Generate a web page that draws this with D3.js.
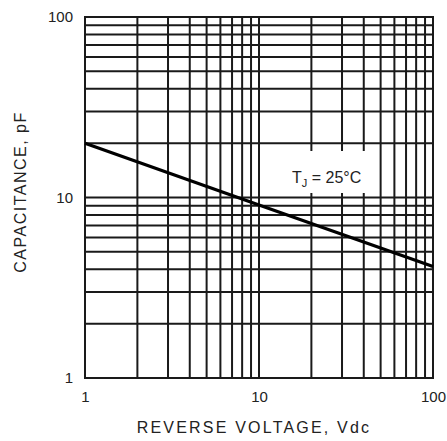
<!DOCTYPE html>
<html><head><meta charset="utf-8">
<script src="https://cdn.jsdelivr.net/npm/d3@7"></script>
<style>body{margin:0;background:#fff}svg{display:block}</style>
</head><body><svg id="c" width="447" height="441"></svg>
<script>
// Data
const voltage = [1, 10, 100];
const capacitance = [20, 9.1, 4.15];
const xTickLabels = [1, 10, 100];
const yTickLabels = [1, 10, 100];
const gridValues = [1,2,3,4,5,6,7,8,9,10,20,30,40,50,60,70,80,90,100];
const xTitle = "REVERSE VOLTAGE, Vdc";
const yTitle = "CAPACITANCE, pF";
const noteValue = { v: 22, c: 12.5 };

const svg = d3.select("#c");
const L = 85, R = 433, T = 17, B = 378;
const font = "'Liberation Sans', Arial, Helvetica, sans-serif";

const x = d3.scaleLog().domain([1, 100]).range([L, R]);
const y = d3.scaleLog().domain([1, 100]).range([B, T]);

const g = svg.append("g");

// grid
g.selectAll("line.v").data(gridValues).join("line")
  .attr("x1", d => x(d)).attr("x2", d => x(d))
  .attr("y1", T).attr("y2", B)
  .attr("stroke", "#1a1a1a").attr("stroke-width", 2);
g.selectAll("line.h").data(gridValues).join("line")
  .attr("y1", d => y(d)).attr("y2", d => y(d))
  .attr("x1", L).attr("x2", R)
  .attr("stroke", "#1a1a1a").attr("stroke-width", 2);

// annotation background
g.append("rect").attr("x", 268).attr("y", 151).attr("width", 110).attr("height", 42).attr("fill", "#fff");

// frame
g.append("rect").attr("x", L).attr("y", T).attr("width", R - L).attr("height", B - T)
  .attr("fill", "none").attr("stroke", "#1a1a1a").attr("stroke-width", 2);

// curve
const pts = voltage.map((v, i) => [v, capacitance[i]]);
g.append("path").datum(pts)
  .attr("d", d3.line().x(d => x(d[0])).y(d => y(d[1])))
  .attr("fill", "none").attr("stroke", "#000").attr("stroke-width", 3.2);

// axes via d3 axis generators (labels only)
const xAxis = d3.axisBottom(x).tickValues(xTickLabels).tickFormat(d3.format("d")).tickSize(0).tickPadding(13);
const ax = svg.append("g").attr("transform", `translate(0,${B})`).call(xAxis);
ax.select(".domain").remove();
ax.selectAll("text").attr("font-family", font).attr("font-size", 15).attr("fill", "#222");

const yAxis = d3.axisLeft(y).tickValues(yTickLabels).tickFormat(d3.format("d")).tickSize(0).tickPadding(12);
const ay = svg.append("g").attr("transform", `translate(${L},0)`).call(yAxis);
ay.select(".domain").remove();
ay.selectAll("text").attr("font-family", font).attr("font-size", 15).attr("fill", "#222");

// titles
svg.append("text").attr("x", 254).attr("y", 433).attr("text-anchor", "middle")
  .attr("font-family", font).attr("font-size", 16).attr("letter-spacing", "2.2px").attr("fill", "#222")
  .text(xTitle);
svg.append("text").attr("transform", "translate(26,192) rotate(-90)").attr("text-anchor", "middle")
  .attr("font-family", font).attr("font-size", 16).attr("letter-spacing", "1.5px").attr("fill", "#222")
  .text(yTitle);

// annotation
const note = svg.append("text").attr("x", 292).attr("y", 183)
  .attr("font-family", font).attr("font-size", 16).attr("fill", "#222");
note.append("tspan").text("T");
note.append("tspan").attr("font-size", 11).attr("dy", 4).text("J");
note.append("tspan").attr("dy", -4).text(" = 25°C");
</script></body></html>
